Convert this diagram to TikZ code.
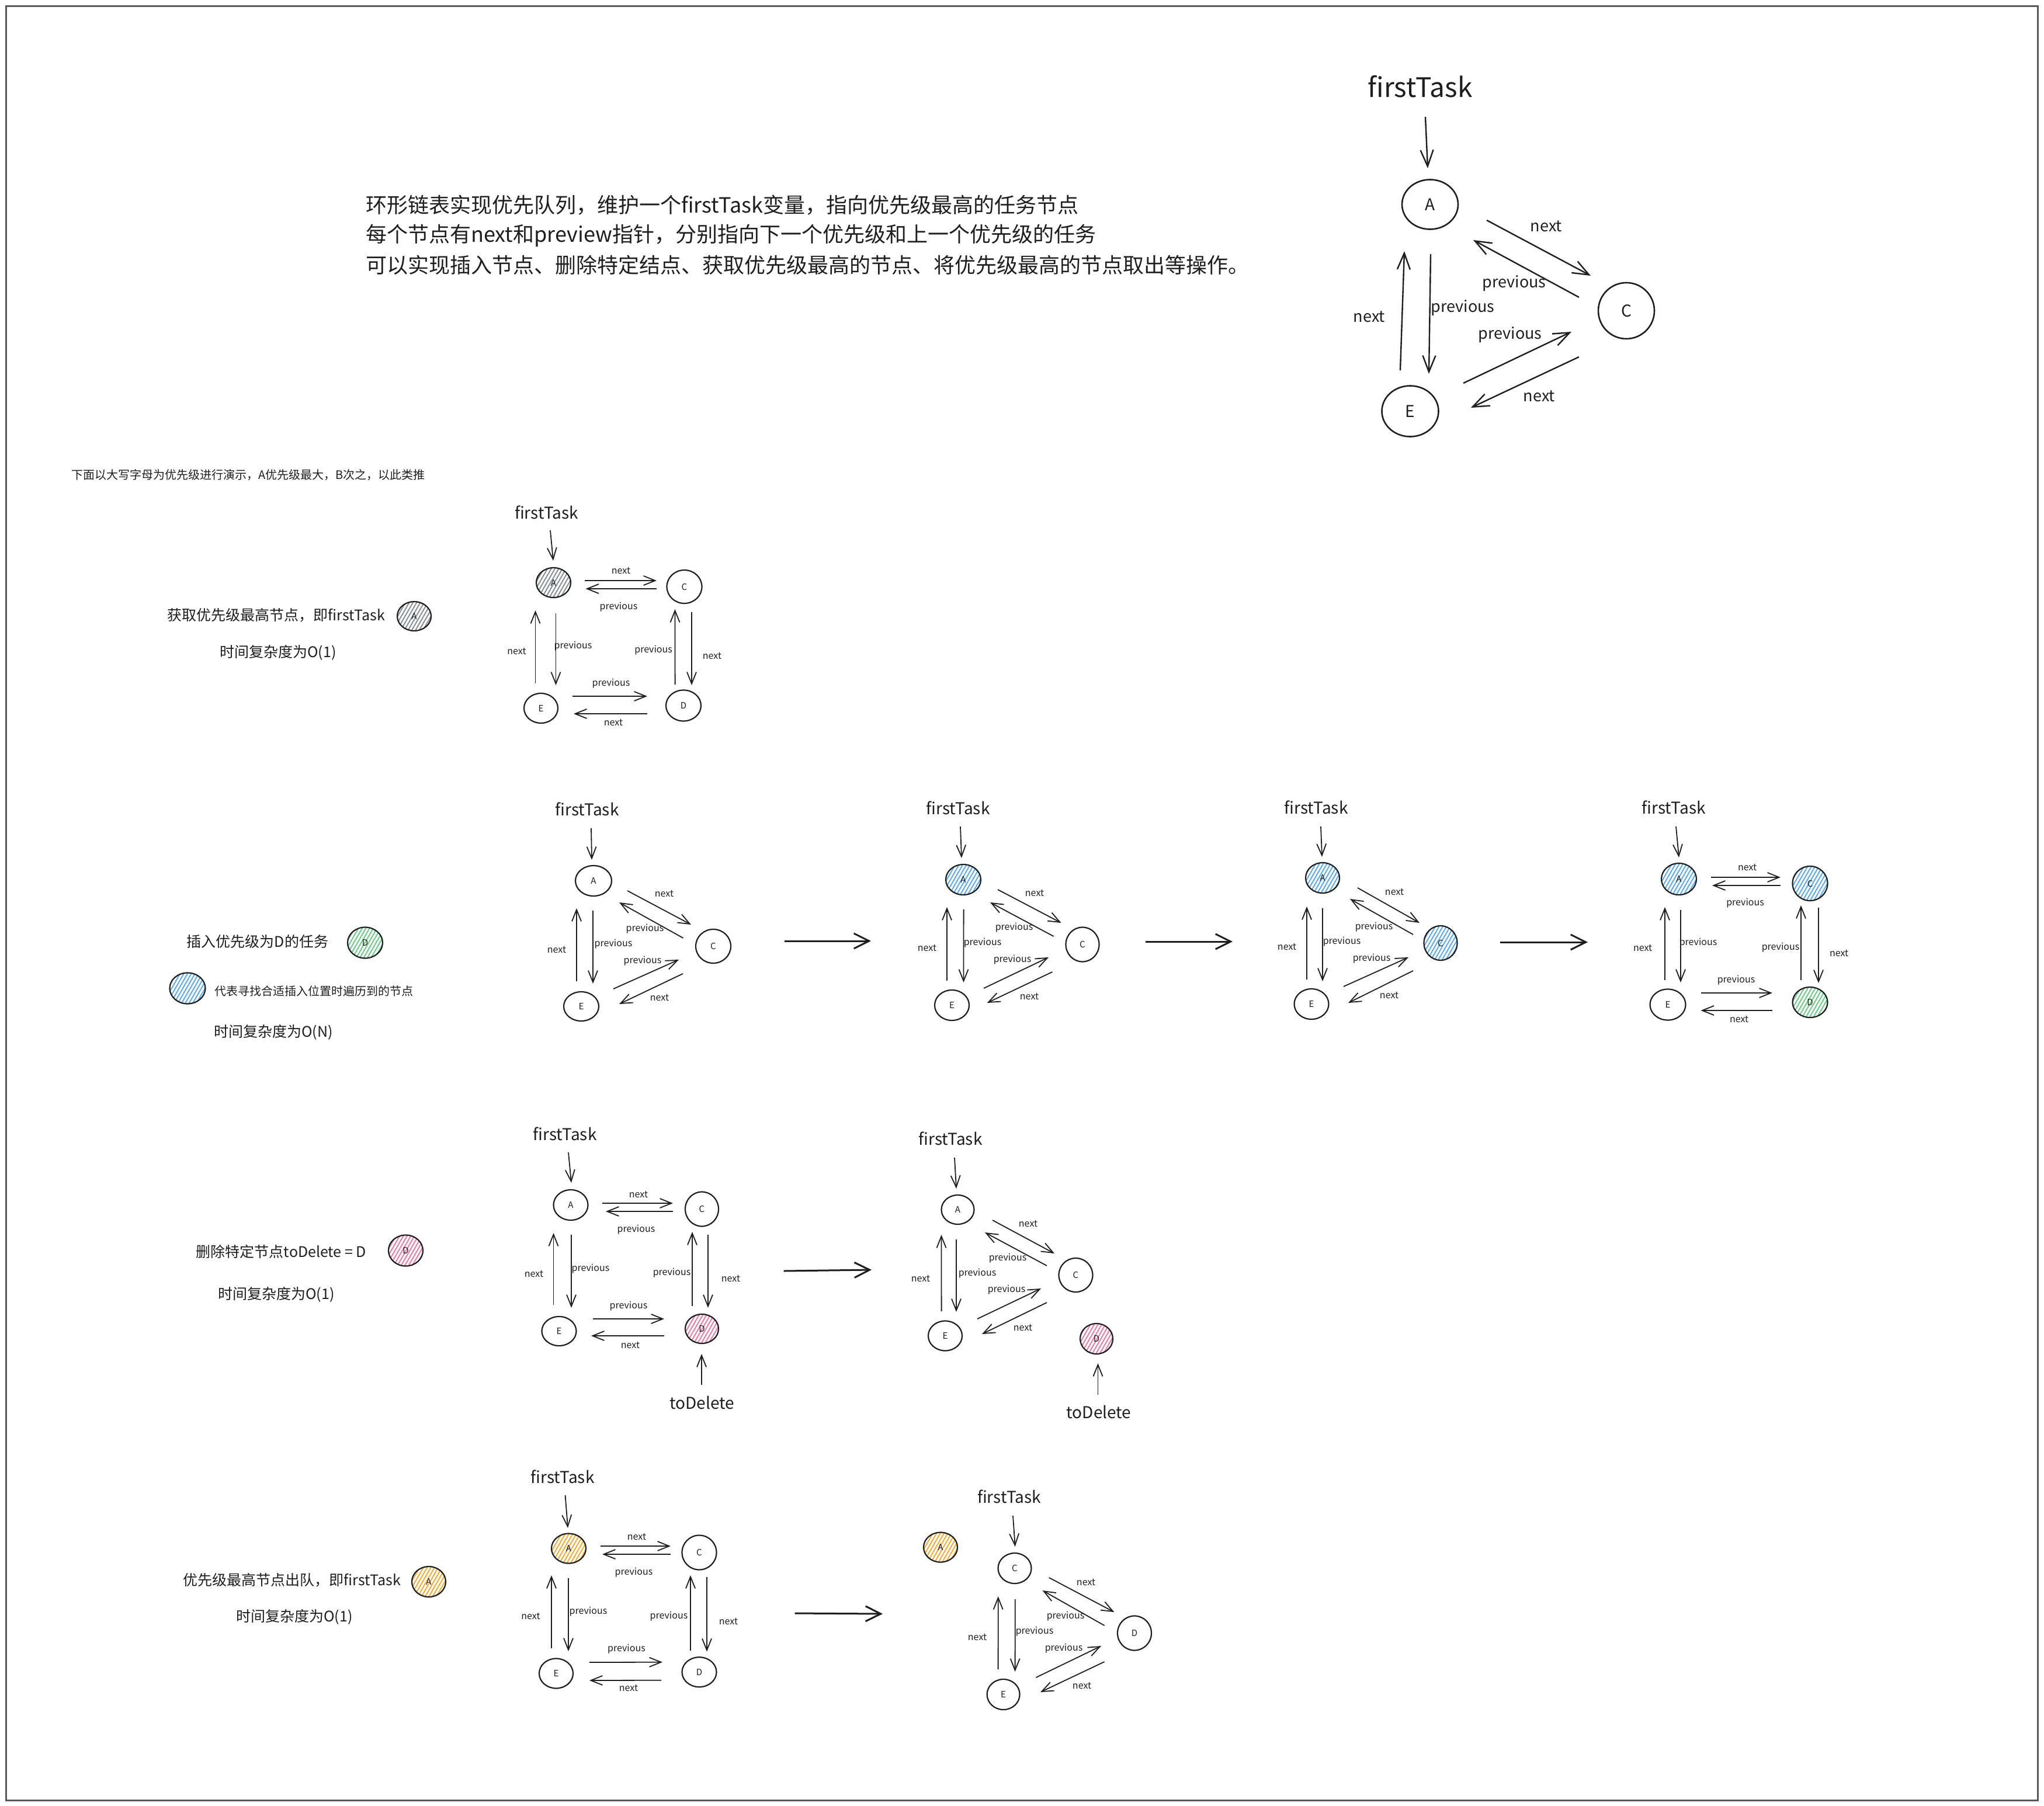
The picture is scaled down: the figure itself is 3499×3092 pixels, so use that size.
\documentclass[tikz,border=0pt]{standalone}
\usepackage{fontspec}
\setmainfont{Noto Sans CJK SC}
\usetikzlibrary{arrows.meta,shapes.geometric,patterns.meta}
\definecolor{ink}{HTML}{1E1E1E}
\definecolor{hgray}{HTML}{868E96}
\definecolor{hblue}{HTML}{5AAAF0}
\definecolor{hgreen}{HTML}{69CC85}
\definecolor{hpink}{HTML}{EE7AA3}
\definecolor{horange}{HTML}{F5AA30}
\tikzset{
  sz/.style 2 args={minimum width=#1pt, minimum height=#2pt},
  nd/.style={ellipse, draw=ink, line width=2.2pt, inner sep=0pt, text=ink, font=\fontsize{15}{15}\selectfont},
  bignd/.style={ellipse, draw=ink, line width=2.6pt, inner sep=0pt, text=ink, font=\fontsize{28}{28}\selectfont},
  hatch/.style={pattern={Lines[angle=60,distance=5.5pt,line width=2pt]}, pattern color=#1},
  lab/.style={inner sep=0pt, text=ink, font=\fontsize{16}{16}\selectfont},
  blab/.style={inner sep=0pt, text=ink, font=\fontsize{27}{27}\selectfont},
  ft/.style={inner sep=0pt, text=ink, font=\fontsize{28}{28}\selectfont},
  bft/.style={inner sep=0pt, text=ink, font=\fontsize{46}{46}\selectfont},
  cn/.style={inner sep=0pt, text=ink, font=\fontsize{25}{25}\selectfont},
  sa/.style={draw=ink, line width=1.8pt, -{Straight Barb[length=20pt,width=16pt]}},
  ba/.style={draw=ink, line width=2.4pt, -{Straight Barb[length=28pt,width=22pt]}},
  ta/.style={draw=ink, line width=3pt, -{Straight Barb[length=26pt,width=26pt]}}
}
\begin{document}
\begin{tikzpicture}[x=1pt,y=-1pt]
\useasboundingbox (0,0) rectangle (3499,3092);
\draw[line width=3pt, draw=black!65] (10,10) rectangle (3488,3082);

% ---------- intro text ----------
\node[inner sep=0pt, anchor=west, text=ink, font=\fontsize{36}{36}\selectfont] (t1) at (626,351) {环形链表实现优先队列，维护一个firstTask变量，指向优先级最高的任务节点};
\node[inner sep=0pt, anchor=west, text=ink, font=\fontsize{36}{36}\selectfont] (t2) at (626,403) {每个节点有next和preview指针，分别指向下一个优先级和上一个优先级的任务};
\node[inner sep=0pt, anchor=west, text=ink, font=\fontsize{36}{36}\selectfont] (t3) at (626,454) {可以实现插入节点、删除特定结点、获取优先级最高的节点、将优先级最高的节点取出等操作。};
\node[inner sep=0pt, anchor=west, text=ink, font=\fontsize{20}{20}\selectfont] (t4) at (122,813) {下面以大写字母为优先级进行演示，A优先级最大，B次之，以此类推};

% ---------- main diagram ----------
\node[bignd, sz={96}{85}] (mA) at (2448,350) {A};
\node[bignd, sz={96}{96}] (mC) at (2784,532) {C};
\node[bignd, sz={97}{87}] (mE) at (2414,704) {E};
\node[bft] (mFT) at (2431,148) {firstTask};
\draw[ba] ([shift={(9,52)}]mFT.center) -- ([shift={(-4,-62)}]mA.center);
\draw[ba] ([shift={(97,27)}]mA.center) -- ([shift={(-61,-60)}]mC.center);
\draw[ba] ([shift={(-81,-23)}]mC.center) -- ([shift={(74,61)}]mA.center);
\draw[ba] ([shift={(1,85)}]mA.center) -- ([shift={(32,-64)}]mE.center);
\draw[ba] ([shift={(-17,-70)}]mE.center) -- ([shift={(-44,80)}]mA.center);
\draw[ba] ([shift={(91,-48)}]mE.center) -- ([shift={(-94,36)}]mC.center);
\draw[ba] ([shift={(-81,79)}]mC.center) -- ([shift={(104,-6)}]mE.center);
\node[blab] (mL1) at (2647,387) {next};
\node[blab] (mL2) at (2592,485) {previous};
\node[blab] (mL3) at (2504,527) {previous};
\node[blab] (mL4) at (2344,542) {next};
\node[blab] (mL5) at (2585,573) {previous};
\node[blab] (mL6) at (2635,678) {next};

% ---------- section 1 ----------
\node[cn] (s1a) at (473,1053) {获取优先级最高节点，即firstTask};
\node[nd, sz={58}{50}, hatch=hgray] (s1c) at (709,1055) {A};
\node[cn] (s1b) at (476,1117) {时间复杂度为O(1)};
\node[nd, sz={59}{51}, hatch=hgray] (aA) at (947.5,997.5) {A};
\node[nd, sz={60}{57}] (aC) at (1171.5,1004.5) {C};
\node[nd, sz={58}{51}] (aE) at (926,1212.5) {E};
\node[nd, sz={60}{53}] (aD) at (1170,1208) {D};
\node[ft] (aFT) at (935.5,877) {firstTask};
\draw[sa] ([shift={(6.5,31)}]aFT.center) -- ([shift={(-0.5,-37.5)}]aA.center);
\draw[sa] ([shift={(53.5,-3.5)}]aA.center) -- ([shift={(-47.5,-10.5)}]aC.center);
\draw[sa] ([shift={(-47.5,3.5)}]aC.center) -- ([shift={(55,10.5)}]aA.center);
\draw[sa] ([shift={(4,52.5)}]aA.center) -- ([shift={(25.5,-39.5)}]aE.center);
\draw[sa] ([shift={(-9.5,-42.5)}]aE.center) -- ([shift={(-31,47.5)}]aA.center);
\draw[sa] ([shift={(12.5,43.5)}]aC.center) -- ([shift={(14,-35)}]aD.center);
\draw[sa] ([shift={(-14.4,-36)}]aD.center) -- ([shift={(-16,38.5)}]aC.center);
\draw[sa] ([shift={(54,-20.5)}]aE.center) -- ([shift={(-62,-16)}]aD.center);
\draw[sa] ([shift={(-62,14)}]aD.center) -- ([shift={(56,9.5)}]aE.center);
\node[lab] (aL1) at (1063,977) {next};
\node[lab] (aL2) at (1059,1039) {previous};
\node[lab] (aL3) at (981,1106) {previous};
\node[lab] (aL4) at (884.5,1115) {next};
\node[lab] (aL5) at (1219,1123) {next};
\node[lab] (aL6) at (1118.6,1113) {previous};
\node[lab] (aL7) at (1046,1170) {previous};
\node[lab] (aL8) at (1050,1237) {next};

% ---------- section 2 ----------
\node[cn] (s2a) at (441,1612) {插入优先级为D的任务};
\node[nd, sz={60}{53}, hatch=hgreen] (s2d) at (625,1614) {D};
\node[nd, sz={61}{53}, hatch=hblue] (s2e) at (321,1692) {};
\node[inner sep=0pt, anchor=west, text=ink, font=\fontsize{20}{20}\selectfont] (s2b) at (367,1697) {代表寻找合适插入位置时遍历到的节点};
\node[cn] (s2c) at (468,1767) {时间复杂度为O(N)};

% diagram 2a
\node[nd, sz={62}{52}] (bA) at (1016,1508) {A};
\node[nd, sz={60}{58}] (bC) at (1221,1620) {C};
\node[nd, sz={60}{50}] (bE) at (995,1723) {E};
\node[ft] (bFT) at (1005,1385) {firstTask};
\draw[sa] ([shift={(7,33)}]bFT.center) -- ([shift={(-3,-36)}]bA.center);
\draw[sa] ([shift={(58,17)}]bA.center) -- ([shift={(-38,-37)}]bC.center);
\draw[sa] ([shift={(-51.5,-14)}]bC.center) -- ([shift={(44,37)}]bA.center);
\draw[sa] ([shift={(-1,51)}]bA.center) -- ([shift={(20,-39)}]bE.center);
\draw[sa] ([shift={(-8,-43)}]bE.center) -- ([shift={(-29,47)}]bA.center);
\draw[sa] ([shift={(55,-30)}]bE.center) -- ([shift={(-59,23)}]bC.center);
\draw[sa] ([shift={(-52,47)}]bC.center) -- ([shift={(65,-4)}]bE.center);
\node[lab] (bL1) at (1137,1530) {next};
\node[lab] (bL2) at (1104,1590) {previous};
\node[lab] (bL3) at (1050,1616) {previous};
\node[lab] (bL4) at (953,1626) {next};
\node[lab] (bL5) at (1100,1645) {previous};
\node[lab] (bL6) at (1129,1708) {next};

\coordinate (t1s) at (1343,1611);
\coordinate (t1e) at (1491,1611);
\draw[ta] (t1s) -- (t1e);

% diagram 2b
\node[nd, sz={60}{52}, hatch=hblue] (cA) at (1649,1506) {A};
\node[nd, sz={57}{59}] (cC) at (1853,1617) {C};
\node[nd, sz={59}{52}] (cE) at (1629.5,1721) {E};
\node[ft] (cFT) at (1640,1383) {firstTask};
\draw[sa] ([shift={(4,32)}]cFT.center) -- ([shift={(-3,-37)}]cA.center);
\draw[sa] ([shift={(59,17)}]cA.center) -- ([shift={(-36.4,-37)}]cC.center);
\draw[sa] ([shift={(-49.4,-14)}]cC.center) -- ([shift={(46,39)}]cA.center);
\draw[sa] ([shift={(0.6,51)}]cA.center) -- ([shift={(20,-39)}]cE.center);
\draw[sa] ([shift={(-8.5,-42)}]cE.center) -- ([shift={(-28,47)}]cA.center);
\draw[sa] ([shift={(54.5,-29)}]cE.center) -- ([shift={(-58,22)}]cC.center);
\draw[sa] ([shift={(-51.6,47)}]cC.center) -- ([shift={(60.2,-4)}]cE.center);
\node[lab] (cL1) at (1771,1529) {next};
\node[lab] (cL2) at (1736,1588) {previous};
\node[lab] (cL3) at (1682,1614) {previous};
\node[lab] (cL4) at (1587,1623) {next};
\node[lab] (cL5) at (1733,1643) {previous};
\node[lab] (cL6) at (1762,1706) {next};

\coordinate (t2s) at (1961,1612);
\coordinate (t2e) at (2110,1612);
\draw[ta] (t2s) -- (t2e);

% diagram 2c
\node[nd, sz={58}{52}, hatch=hblue] (dA) at (2264,1503) {A};
\node[nd, sz={57}{59}, hatch=hblue] (dC) at (2466,1614.5) {C};
\node[nd, sz={59}{52}] (dE) at (2245,1719) {E};
\node[ft] (dFT) at (2253,1382) {firstTask};
\draw[sa] ([shift={(8,33)}]dFT.center) -- ([shift={(-1,-36)}]dA.center);
\draw[sa] ([shift={(60,17)}]dA.center) -- ([shift={(-36,-34.5)}]dC.center);
\draw[sa] ([shift={(-47,-14.5)}]dC.center) -- ([shift={(47,36)}]dA.center);
\draw[sa] ([shift={(0,52)}]dA.center) -- ([shift={(19,-39)}]dE.center);
\draw[sa] ([shift={(-8,-42)}]dE.center) -- ([shift={(-27,49)}]dA.center);
\draw[sa] ([shift={(55,-30)}]dE.center) -- ([shift={(-55,24.5)}]dC.center);
\draw[sa] ([shift={(-47,47.5)}]dC.center) -- ([shift={(63,-2)}]dE.center);
\node[lab] (dL1) at (2387,1527) {next};
\node[lab] (dL2) at (2352,1587) {previous};
\node[lab] (dL3) at (2297,1612) {previous};
\node[lab] (dL4) at (2203,1621) {next};
\node[lab] (dL5) at (2348,1641) {previous};
\node[lab] (dL6) at (2378,1704) {next};

\coordinate (t3s) at (2568,1613);
\coordinate (t3e) at (2718,1613);
\draw[ta] (t3s) -- (t3e);

% diagram 2d
\node[nd, sz={60}{54}, hatch=hblue] (eA) at (2874,1505) {A};
\node[nd, sz={60}{59}, hatch=hblue] (eC) at (3098.5,1512.5) {C};
\node[nd, sz={61}{53}] (eE) at (2855,1720) {E};
\node[nd, sz={60}{52}, hatch=hgreen] (eD) at (3098.5,1716) {D};
\node[ft] (eFT) at (2865,1382) {firstTask};
\draw[sa] ([shift={(4,33)}]eFT.center) -- ([shift={(0,-37)}]eA.center);
\draw[sa] ([shift={(55,-3)}]eA.center) -- ([shift={(-50.5,-10.5)}]eC.center);
\draw[sa] ([shift={(-50.5,3.5)}]eC.center) -- ([shift={(57,11)}]eA.center);
\draw[sa] ([shift={(3,53)}]eA.center) -- ([shift={(22,-38)}]eE.center);
\draw[sa] ([shift={(-5,-42)}]eE.center) -- ([shift={(-24,48)}]eA.center);
\draw[sa] ([shift={(14.5,41.5)}]eC.center) -- ([shift={(14.5,-33)}]eD.center);
\draw[sa] ([shift={(-15.5,-38)}]eD.center) -- ([shift={(-15.5,37.5)}]eC.center);
\draw[sa] ([shift={(56.5,-20)}]eE.center) -- ([shift={(-64.5,-16)}]eD.center);
\draw[sa] ([shift={(-64.5,14)}]eD.center) -- ([shift={(56.5,10)}]eE.center);
\node[lab] (eL1) at (2991,1485) {next};
\node[lab] (eL2) at (2987.5,1546) {previous};
\node[lab] (eL3) at (2907,1614) {previous};
\node[lab] (eL4) at (2812,1623) {next};
\node[lab] (eL5) at (3148,1632) {next};
\node[lab] (eL6) at (3048,1622) {previous};
\node[lab] (eL7) at (2972,1678) {previous};
\node[lab] (eL8) at (2977,1745) {next};

% ---------- section 3 ----------
\node[cn] (s3a) at (481.5,2143) {删除特定节点toDelete = D};
\node[nd, sz={59}{53}, hatch=hpink] (s3d) at (694.5,2141) {D};
\node[cn] (s3b) at (473,2216) {时间复杂度为O(1)};

% diagram 3a
\node[nd, sz={59}{52}] (fA) at (977,2063) {A};
\node[nd, sz={57}{59}] (fC) at (1201.5,2070) {C};
\node[nd, sz={59}{50}] (fE) at (957,2279) {E};
\node[nd, sz={57}{50}, hatch=hpink] (fD) at (1201.5,2275) {D};
\node[ft] (fFT) at (967,1941) {firstTask};
\node[ft] (fTD) at (1201.5,2402) {toDelete};
\draw[sa] ([shift={(6,32)}]fFT.center) -- ([shift={(1,-38)}]fA.center);
\draw[sa] ([shift={(54,-3)}]fA.center) -- ([shift={(-49.5,-10)}]fC.center);
\draw[sa] ([shift={(-49.5,4)}]fC.center) -- ([shift={(60,11)}]fA.center);
\draw[sa] ([shift={(1,51)}]fA.center) -- ([shift={(21,-40)}]fE.center);
\draw[sa] ([shift={(-9.5,-45)}]fE.center) -- ([shift={(-29.5,48)}]fA.center);
\draw[sa] ([shift={(10.5,44)}]fC.center) -- ([shift={(10.5,-36)}]fD.center);
\draw[sa] ([shift={(-16.5,-39)}]fD.center) -- ([shift={(-16.5,39)}]fC.center);
\draw[sa] ([shift={(57.5,-21)}]fE.center) -- ([shift={(-64.5,-17)}]fD.center);
\draw[sa] ([shift={(-64.5,12)}]fD.center) -- ([shift={(55,8)}]fE.center);
\draw[sa] ([shift={(-0.5,-31)}]fTD.center) -- ([shift={(-0.5,43)}]fD.center);
\node[lab] (fL1) at (1093,2045) {next};
\node[lab] (fL2) at (1089,2105) {previous};
\node[lab] (fL3) at (1011,2172) {previous};
\node[lab] (fL4) at (914,2181) {next};
\node[lab] (fL5) at (1251,2189) {next};
\node[lab] (fL6) at (1150,2179) {previous};
\node[lab] (fL7) at (1076,2236) {previous};
\node[lab] (fL8) at (1079,2303) {next};

\coordinate (t4s) at (1341.5,2176);
\coordinate (t4e) at (1492,2174);
\draw[ta] (t4s) -- (t4e);

% diagram 3b
\node[nd, sz={56}{50}] (gA) at (1639.5,2071) {A};
\node[nd, sz={58}{58}] (gC) at (1841.5,2183) {C};
\node[nd, sz={58}{51}] (gE) at (1618,2287) {E};
\node[nd, sz={56}{52}, hatch=hpink] (gD) at (1877,2292) {D};
\node[ft] (gFT) at (1627,1949) {firstTask};
\node[ft] (gTD) at (1881,2418) {toDelete};
\draw[sa] ([shift={(7,33)}]gFT.center) -- ([shift={(-2.5,-36)}]gA.center);
\draw[sa] ([shift={(59.5,18)}]gA.center) -- ([shift={(-36.5,-37)}]gC.center);
\draw[sa] ([shift={(-49.5,-16)}]gC.center) -- ([shift={(46.5,39)}]gA.center);
\draw[sa] ([shift={(-2.5,51)}]gA.center) -- ([shift={(19,-41)}]gE.center);
\draw[sa] ([shift={(-6.4,-42)}]gE.center) -- ([shift={(-28,43)}]gA.center);
\draw[sa] ([shift={(55,-29)}]gE.center) -- ([shift={(-59.5,23)}]gC.center);
\draw[sa] ([shift={(-49.5,47)}]gC.center) -- ([shift={(63,-3)}]gE.center);
\draw[sa] ([shift={(-1.5,-30.5)}]gTD.center) -- ([shift={(2.5,42)}]gD.center);
\node[lab] (gL1) at (1760,2095) {next};
\node[lab] (gL2) at (1725,2154) {previous};
\node[lab] (gL3) at (1673,2180) {previous};
\node[lab] (gL4) at (1576,2189) {next};
\node[lab] (gL5) at (1723,2208) {previous};
\node[lab] (gL6) at (1751,2273) {next};

% ---------- section 4 ----------
\node[cn] (s4a) at (500,2705) {优先级最高节点出队，即firstTask};
\node[nd, sz={58}{52}, hatch=horange] (s4c) at (734,2708) {A};
\node[cn] (s4b) at (504,2768) {时间复杂度为O(1)};

% diagram 4a
\node[nd, sz={59}{51}, hatch=horange] (hA) at (973.5,2651) {A};
\node[nd, sz={59}{59}] (hC) at (1197,2658) {C};
\node[nd, sz={58}{51}] (hE) at (952,2865) {E};
\node[nd, sz={59}{51}] (hD) at (1197,2862.7) {D};
\node[ft] (hFT) at (963,2528) {firstTask};
\draw[sa] ([shift={(4.6,32)}]hFT.center) -- ([shift={(-1.5,-35)}]hA.center);
\draw[sa] ([shift={(54.5,-4)}]hA.center) -- ([shift={(-49,-11)}]hC.center);
\draw[sa] ([shift={(-49,3)}]hC.center) -- ([shift={(57.5,10)}]hA.center);
\draw[sa] ([shift={(-0.5,51)}]hA.center) -- ([shift={(21,-38)}]hE.center);
\draw[sa] ([shift={(-8,-43)}]hE.center) -- ([shift={(-29.5,46)}]hA.center);
\draw[sa] ([shift={(13,42)}]hC.center) -- ([shift={(13,-35)}]hD.center);
\draw[sa] ([shift={(-15,-37)}]hD.center) -- ([shift={(-15,39)}]hC.center);
\draw[sa] ([shift={(57,-19)}]hE.center) -- ([shift={(-63,-17)}]hD.center);
\draw[sa] ([shift={(-65,14)}]hD.center) -- ([shift={(57,12)}]hE.center);
\node[lab] (hL1) at (1090,2631) {next};
\node[lab] (hL2) at (1085,2692) {previous};
\node[lab] (hL3) at (1007,2759) {previous};
\node[lab] (hL4) at (908.5,2767) {next};
\node[lab] (hL5) at (1247,2776) {next};
\node[lab] (hL6) at (1145,2767) {previous};
\node[lab] (hL7) at (1072.5,2823) {previous};
\node[lab] (hL8) at (1076,2890) {next};

\coordinate (t5s) at (1360.5,2762);
\coordinate (t5e) at (1511,2763);
\draw[ta] (t5s) -- (t5e);

% diagram 4b
\node[nd, sz={58}{51}, hatch=horange] (iA) at (1610,2649) {A};
\node[nd, sz={57}{52}] (iC) at (1737,2685) {C};
\node[nd, sz={58}{59}] (iD) at (1942,2796) {D};
\node[nd, sz={56}{52}] (iE) at (1717.6,2901) {E};
\node[ft] (iFT) at (1727.5,2562) {firstTask};
\draw[sa] ([shift={(6.5,33)}]iFT.center) -- ([shift={(0.7,-37)}]iC.center);
\draw[sa] ([shift={(58.7,16)}]iC.center) -- ([shift={(-34.6,-36)}]iD.center);
\draw[sa] ([shift={(-51.4,-13)}]iD.center) -- ([shift={(47.6,38)}]iC.center);
\draw[sa] ([shift={(0.7,53)}]iC.center) -- ([shift={(20,-39)}]iE.center);
\draw[sa] ([shift={(-9,-43)}]iE.center) -- ([shift={(-28.3,48)}]iC.center);
\draw[sa] ([shift={(55.8,-29)}]iE.center) -- ([shift={(-57,22)}]iD.center);
\draw[sa] ([shift={(-51.4,49)}]iD.center) -- ([shift={(63.4,-4)}]iE.center);
\node[lab] (iL1) at (1859,2709) {next};
\node[lab] (iL2) at (1824,2767) {previous};
\node[lab] (iL3) at (1771,2793) {previous};
\node[lab] (iL4) at (1673,2803) {next};
\node[lab] (iL5) at (1821,2822) {previous};
\node[lab] (iL6) at (1852,2886) {next};
\end{tikzpicture}
\end{document}
